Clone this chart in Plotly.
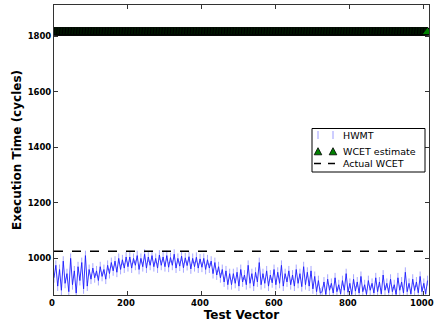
import plotly.graph_objects as go

# Test vector index (every 5th vector)
test_vector = list(range(0, 1011, 5))

hwmt = [
    930, 975, 900, 960, 885, 990, 910, 945, 880, 1000, 905, 955, 875, 970, 920, 985, 890, 1010, 900, 960,
    925, 965, 930, 955, 920, 970, 935, 960, 925, 975,
    945, 985, 955, 990, 950, 1000, 960, 995, 965, 1005,
    970, 1005, 965, 1000, 975, 1010, 960, 1000, 970, 1015, 965, 1005, 975, 1010, 970, 1000, 965, 1012, 975, 1005,
    970, 1010, 968, 1003, 975, 1015, 965, 1000, 972, 1008, 966, 1002, 974, 1006, 962, 1000, 970, 1004, 965, 998,
    968, 1000, 960, 995, 965, 990,
    945, 985, 940, 970, 930, 960, 915, 955, 905, 945,
    905, 945, 910, 950, 900, 960, 915, 940, 905, 975, 910, 945, 900, 950, 915, 985, 905, 945, 910, 955, 900, 940, 912, 960,
    905, 950, 910, 975, 900, 945, 915, 955, 905, 940, 900, 960, 910, 945, 898, 970, 905, 950, 900, 955,
    890, 935, 880, 920, 875,
    880, 915, 870, 925, 885, 910, 875, 930, 880, 905, 872, 920, 885, 945, 878, 910, 870, 925, 882, 915,
    875, 935, 880, 905, 870, 920, 885, 910, 875, 930, 880, 915, 872, 940, 885, 910, 876, 925, 880, 905,
    870, 930, 885, 915, 875, 950, 880, 910, 872, 925, 884, 915, 876, 935, 880, 910, 872, 920,
]

wcet_vectors = list(range(0, 1011, 2))
wcet_estimate_value = 1815
wcet_estimate = [wcet_estimate_value] * len(wcet_vectors)

actual_wcet_value = 1026
actual_wcet_x = [0, 1014]
actual_wcet = [actual_wcet_value, actual_wcet_value]

x_ticks = [0, 200, 400, 600, 800, 1000]
y_ticks = [1000, 1200, 1400, 1600, 1800]

legend_labels = ["HWMT", "WCET estimate", "Actual WCET"]

W, H = 434, 327
ML, MR, MT, MB = 54, 5, 5, 32
PW, PH = W - ML - MR, H - MT - MB


def px(x):
    return (x - ML) / PW


def py(y):
    return (H - MB - y) / PH


fig = go.Figure()

fig.add_trace(go.Scatter(
    x=test_vector, y=hwmt, mode="lines+markers",
    line=dict(color="rgba(0,0,255,0.8)", width=1),
    marker=dict(symbol="line-ns-open", size=7, color="rgba(60,60,255,0.45)",
                line=dict(width=1, color="rgba(60,60,255,0.45)")),
    name=legend_labels[0], showlegend=False,
))
fig.add_trace(go.Scatter(
    x=wcet_vectors, y=wcet_estimate, mode="markers",
    marker=dict(symbol="triangle-up", size=10, color="#008000", line=dict(color="black", width=1)),
    name=legend_labels[1], showlegend=False,
))
fig.add_trace(go.Scatter(
    x=actual_wcet_x, y=actual_wcet, mode="lines",
    line=dict(color="black", width=1.5, dash="dash"),
    name=legend_labels[2], showlegend=False,
))

# Hand-built legend box (matplotlib style, compact)
shapes = [
    dict(type="rect", xref="paper", yref="paper", x0=px(312), x1=px(425), y0=py(172), y1=py(128.5),
         fillcolor="white", line=dict(color="black", width=1), layer="above"),
]
row_y = [135, 151.5, 163.5]
for mx in (318, 333):
    shapes.append(dict(type="line", xref="paper", yref="paper", x0=px(mx), x1=px(mx),
                       y0=py(row_y[0] - 4), y1=py(row_y[0] + 4),
                       line=dict(color="rgba(90,90,255,0.6)", width=1), layer="above"))
    shapes.append(dict(type="path", xref="paper", yref="paper",
                       path=f"M {px(mx-3.8)} {py(row_y[1]+3.3)} L {px(mx+3.8)} {py(row_y[1]+3.3)} L {px(mx)} {py(row_y[1]-3.8)} Z",
                       fillcolor="#008000", line=dict(color="black", width=0.8), layer="above"))
for x0, x1 in ((314, 321), (328, 335)):
    shapes.append(dict(type="line", xref="paper", yref="paper", x0=px(x0), x1=px(x1),
                       y0=py(row_y[2]), y1=py(row_y[2]),
                       line=dict(color="black", width=1.5), layer="above"))

annotations = [
    dict(text=lab, xref="paper", yref="paper", x=px(341), y=py(ry), xanchor="left", yanchor="middle",
         showarrow=False, font=dict(family="DejaVu Sans", size=9.5, color="black"))
    for lab, ry in zip(legend_labels, row_y)
]

axis_common = dict(
    showgrid=False, zeroline=False, showline=True, linecolor="#333", linewidth=1,
    mirror="ticks", ticks="inside", ticklen=4, tickcolor="#333",
    ticklabeloverflow="allow", automargin=False,
    tickfont=dict(family="DejaVu Sans", size=8.5, color="black", weight="bold"),
)

fig.update_layout(
    width=W, height=H,
    margin=dict(l=ML, r=MR, t=MT, b=MB),
    paper_bgcolor="white", plot_bgcolor="white",
    xaxis=dict(range=[0, 1014], tickvals=x_ticks, ticklabelshift=-2,
               title=dict(text="Test Vector", standoff=2,
                          font=dict(family="DejaVu Sans", size=12, color="black", weight="bold")),
               **axis_common),
    yaxis=dict(range=[868, 1913], tickvals=y_ticks,
               title=dict(text="Execution Time (cycles)", standoff=3,
                          font=dict(family="DejaVu Sans", size=12, color="black", weight="bold")),
               **axis_common),
    shapes=shapes,
    annotations=annotations,
    showlegend=False,
)

fig.write_html("out.html")
